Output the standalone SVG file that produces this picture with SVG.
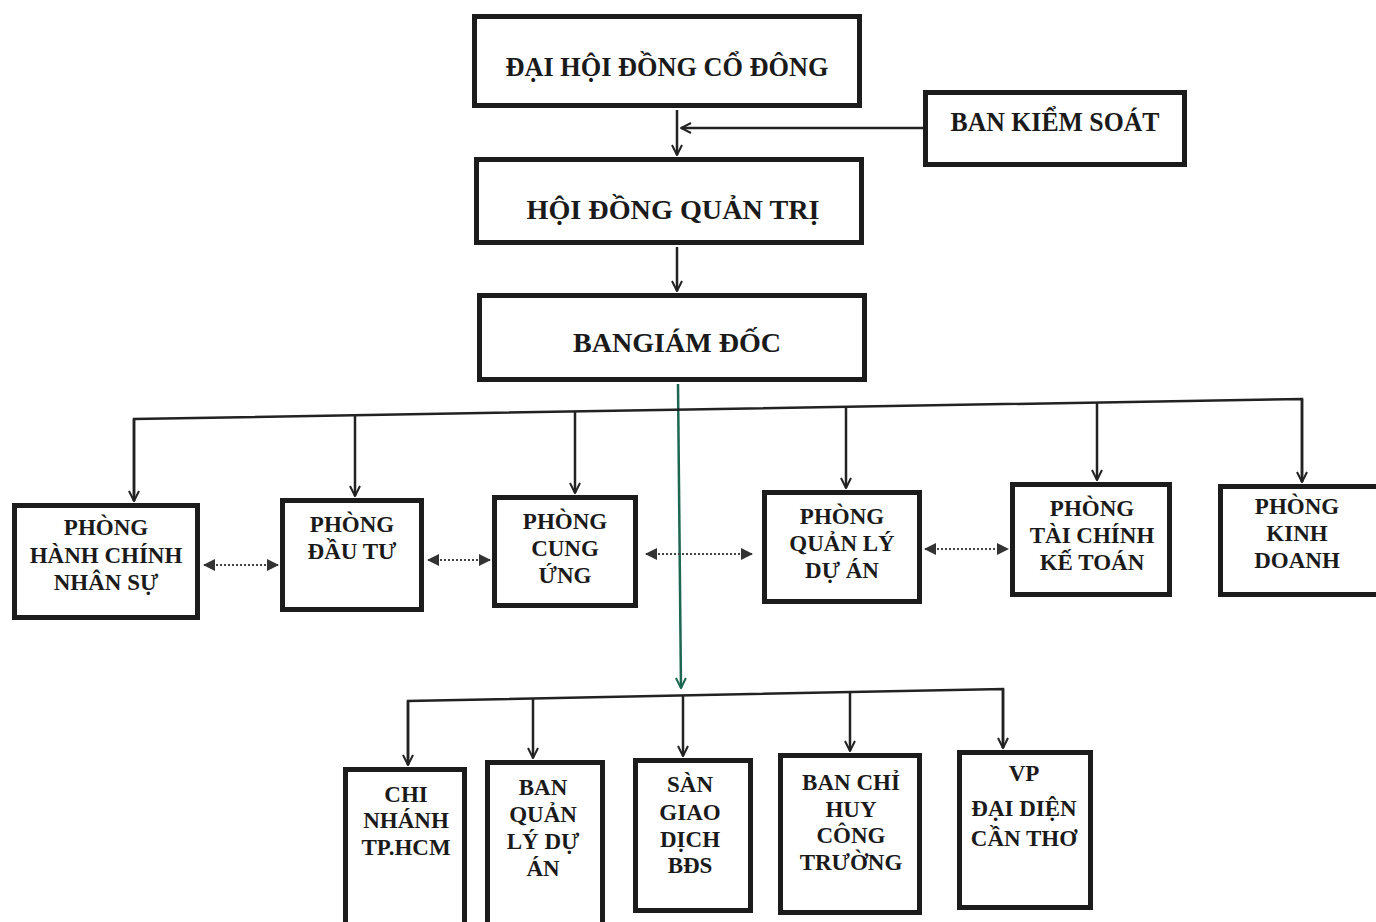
<svg xmlns="http://www.w3.org/2000/svg" width="1376" height="922" viewBox="0 0 1376 922">
<style>
.box{fill:#fff;stroke:#1c1c1c;stroke-width:5}
.t{font-family:"Liberation Serif","Times New Roman",serif;font-weight:bold;fill:#1a1a1a;text-anchor:middle}
.big{font-size:28px}
.sm{font-size:23px}
.bt{font-size:23px}
.ln{fill:none;stroke:#222;stroke-width:2.5}
.teal{fill:none;stroke:#1d6652;stroke-width:2.5}
.dot{fill:none;stroke:#444;stroke-width:2;stroke-dasharray:2 2}
</style>
<defs>
<marker id="ah" viewBox="0 0 12 12" refX="11" refY="6" markerWidth="12" markerHeight="12" markerUnits="userSpaceOnUse" orient="auto">
<path d="M1,1 L11,6 L1,11" fill="none" stroke="#222" stroke-width="2"/>
</marker>
<marker id="aht" viewBox="0 0 12 12" refX="11" refY="6" markerWidth="12" markerHeight="12" markerUnits="userSpaceOnUse" orient="auto">
<path d="M1,1 L11,6 L1,11" fill="none" stroke="#1d6652" stroke-width="2"/>
</marker>
<marker id="tri" viewBox="0 0 12 12" refX="11" refY="6" markerWidth="12" markerHeight="14" markerUnits="userSpaceOnUse" orient="auto-start-reverse">
<path d="M0,0 L12,6 L0,12 Z" fill="#333"/>
</marker>
</defs>
<rect width="1376" height="922" fill="#fff"/>
<g id="connectors">
<path class="ln" d="M923,128 L681,128" marker-end="url(#ah)"/>
<path class="ln" d="M677,110 L677,155" marker-end="url(#ah)"/>
<path class="ln" d="M677,247 L677,291" marker-end="url(#ah)"/>
<path class="teal" d="M678,384 L681,688" marker-end="url(#aht)"/>
<path class="ln" d="M134,501 L134,419 L1302,399 L1302,482"/>
<path class="ln" d="M134,419 L134,501" marker-end="url(#ah)"/>
<path class="ln" d="M355,415 L355,496" marker-end="url(#ah)"/>
<path class="ln" d="M575,411 L575,493" marker-end="url(#ah)"/>
<path class="ln" d="M846,407 L846,488" marker-end="url(#ah)"/>
<path class="ln" d="M1097,402.5 L1097,480" marker-end="url(#ah)"/>
<path class="ln" d="M1302,399 L1302,482" marker-end="url(#ah)"/>
<path class="ln" d="M408,765 L408,701 L1003,689 L1003,748"/>
<path class="ln" d="M408,701 L408,765" marker-end="url(#ah)"/>
<path class="ln" d="M533,698.5 L533,758" marker-end="url(#ah)"/>
<path class="ln" d="M683,695.5 L683,756" marker-end="url(#ah)"/>
<path class="ln" d="M850,692 L850,751" marker-end="url(#ah)"/>
<path class="ln" d="M1003,689 L1003,748" marker-end="url(#ah)"/>
<path class="dot" d="M204,565 L278,565" marker-start="url(#tri)" marker-end="url(#tri)"/>
<path class="dot" d="M428,560 L490,560" marker-start="url(#tri)" marker-end="url(#tri)"/>
<path class="dot" d="M646,554 L752,554" marker-start="url(#tri)" marker-end="url(#tri)"/>
<path class="dot" d="M925,549 L1008,549" marker-start="url(#tri)" marker-end="url(#tri)"/>
</g>
<g id="dhcd"><rect class="box" x="474.5" y="16.5" width="385" height="89"/>
<text class="t big" x="667" y="76" textLength="323" lengthAdjust="spacingAndGlyphs">ĐẠI HỘI ĐỒNG CỔ ĐÔNG</text></g>
<g id="bks"><rect class="box" x="925.5" y="92.5" width="259" height="72"/>
<text class="t big" x="1055" y="131" textLength="209" lengthAdjust="spacingAndGlyphs">BAN KIỂM SOÁT</text></g>
<g id="hdqt"><rect class="box" x="476.5" y="159.5" width="385" height="83"/>
<text class="t big" x="673" y="219" textLength="293" lengthAdjust="spacingAndGlyphs">HỘI ĐỒNG QUẢN TRỊ</text></g>
<g id="bgd"><rect class="box" x="479.5" y="295.5" width="385" height="84"/>
<text class="t big" x="677" y="352" textLength="208" lengthAdjust="spacingAndGlyphs">BANGIÁM ĐỐC</text></g>
<g id="hcns"><rect class="box" x="14.5" y="505.5" width="183" height="112"/>
<text class="t sm" x="106" y="535">PHÒNG</text><text class="t sm" x="106" y="563">HÀNH CHÍNH</text><text class="t sm" x="106" y="590">NHÂN SỰ</text></g>
<g id="dautu"><rect class="box" x="282.5" y="500.5" width="139" height="109"/>
<text class="t sm" x="352" y="532">PHÒNG</text><text class="t sm" x="352" y="559">ĐẦU TƯ</text></g>
<g id="cungung"><rect class="box" x="494.5" y="497.5" width="141" height="108"/>
<text class="t sm" x="565" y="529">PHÒNG</text><text class="t sm" x="565" y="556">CUNG</text><text class="t sm" x="565" y="583">ỨNG</text></g>
<g id="qlda"><rect class="box" x="764.5" y="492.5" width="155" height="109"/>
<text class="t sm" x="842" y="524">PHÒNG</text><text class="t sm" x="842" y="551">QUẢN LÝ</text><text class="t sm" x="842" y="578">DỰ ÁN</text></g>
<g id="tckt"><rect class="box" x="1012.5" y="484.5" width="157" height="110"/>
<text class="t sm" x="1092" y="516">PHÒNG</text><text class="t sm" x="1092" y="543">TÀI CHÍNH</text><text class="t sm" x="1092" y="570">KẾ TOÁN</text></g>
<g id="kd"><rect class="box" x="1220.5" y="486.5" width="160" height="108"/>
<text class="t sm" x="1297" y="514">PHÒNG</text><text class="t sm" x="1297" y="541">KINH</text><text class="t sm" x="1297" y="568">DOANH</text></g>
<g id="chinhanh"><rect class="box" x="345.5" y="769.5" width="119" height="160"/>
<text class="t bt" x="406" y="802">CHI</text><text class="t bt" x="406" y="828">NHÁNH</text><text class="t bt" x="406" y="855">TP.HCM</text></g>
<g id="banqlda"><rect class="box" x="487.5" y="762.5" width="115" height="165"/>
<text class="t bt" x="543" y="795">BAN</text><text class="t bt" x="543" y="822">QUẢN</text><text class="t bt" x="543" y="849">LÝ DỰ</text><text class="t bt" x="543" y="876">ÁN</text></g>
<g id="san"><rect class="box" x="635.5" y="760.5" width="115" height="150"/>
<text class="t bt" x="690" y="792">SÀN</text><text class="t bt" x="690" y="820">GIAO</text><text class="t bt" x="690" y="847">DỊCH</text><text class="t bt" x="690" y="873">BĐS</text></g>
<g id="bch"><rect class="box" x="780.5" y="755.5" width="139" height="157"/>
<text class="t bt" x="851" y="790">BAN CHỈ</text><text class="t bt" x="851" y="817">HUY</text><text class="t bt" x="851" y="843">CÔNG</text><text class="t bt" x="851" y="870">TRƯỜNG</text></g>
<g id="vp"><rect class="box" x="959.5" y="752.5" width="131" height="155"/>
<text class="t bt" x="1024" y="781">VP</text><text class="t bt" x="1024" y="816">ĐẠI DIỆN</text><text class="t bt" x="1024" y="846">CẦN THƠ</text></g>
</svg>
